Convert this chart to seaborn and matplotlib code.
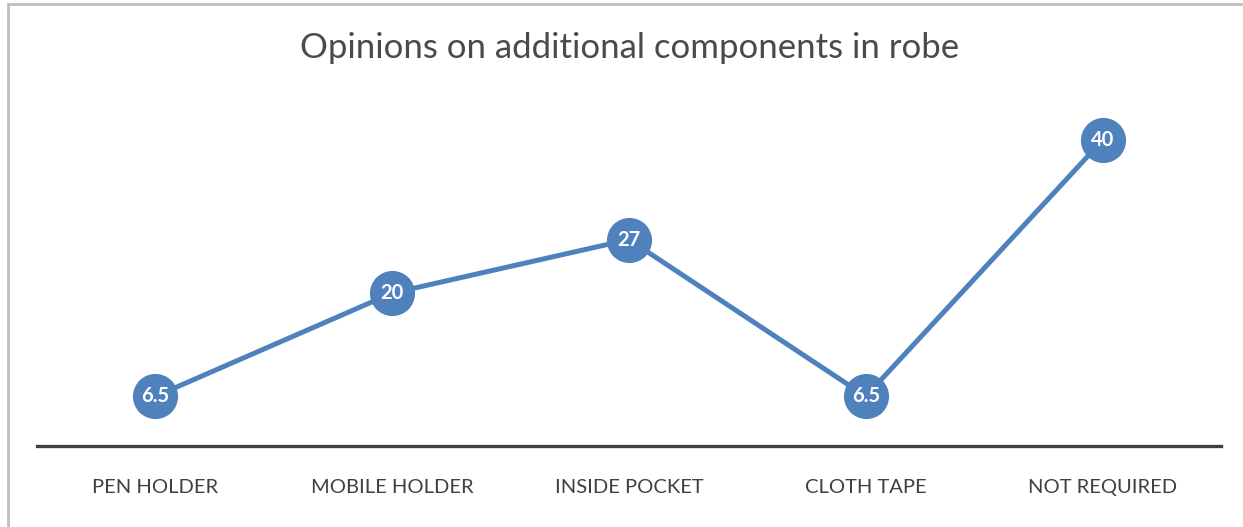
import numpy as np
import matplotlib.pyplot as plt
import pandas as pd
import seaborn as sns
from matplotlib.patches import Rectangle

# data
categories = ['PEN HOLDER', 'MOBILE HOLDER', 'INSIDE POCKET', 'CLOTH TAPE', 'NOT REQUIRED']
values = [6.5, 20, 27, 6.5, 40]
labels = ['6.5', '20', '27', '6.5', '40']

df = pd.DataFrame({'component': categories, 'value': values})

sns.set_style('white')
plt.rcParams['font.family'] = ['Lato', 'DejaVu Sans']

fig = plt.figure(figsize=(12.43, 5.27), dpi=100)
ax = fig.add_axes([37/1243, 81/527, 1184/1243, 344/527])

blue = '#4F81BD'
sns.lineplot(data=df, x='component', y='value', ax=ax, color=blue, linewidth=3.6,
             marker='o', markersize=32.5, markeredgewidth=0, sort=False)
for i, (v, t) in enumerate(zip(values, labels)):
    ax.text(i, v, t, ha='center', va='center', color='white', fontsize=14.5,
            fontweight='bold')

ax.set_xlim(-0.5, 4.5)
ax.set_ylim(0, 45)
ax.set_yticks([])
ax.set_xlabel('')
ax.set_ylabel('')
for s in ['top', 'right', 'left']:
    ax.spines[s].set_visible(False)
ax.spines['bottom'].set_color('#404040')
ax.spines['bottom'].set_linewidth(2.4)
ax.tick_params(axis='x', length=0, pad=24, labelsize=14.5, labelcolor='#404040')

fig.text(630/1243, 1 - 48/527, 'Opinions on additional components in robe',
         ha='center', va='center', fontsize=25, color='#4a4a4a')

# outer chart border (only left and top edges visible)
fig.patches.append(Rectangle((8/1243, -0.05), 1.2, 1 - 4/527 + 0.05, transform=fig.transFigure,
                             fill=False, edgecolor='#BFBFBF', linewidth=2, zorder=0))

plt.savefig('out.png', dpi=100)
